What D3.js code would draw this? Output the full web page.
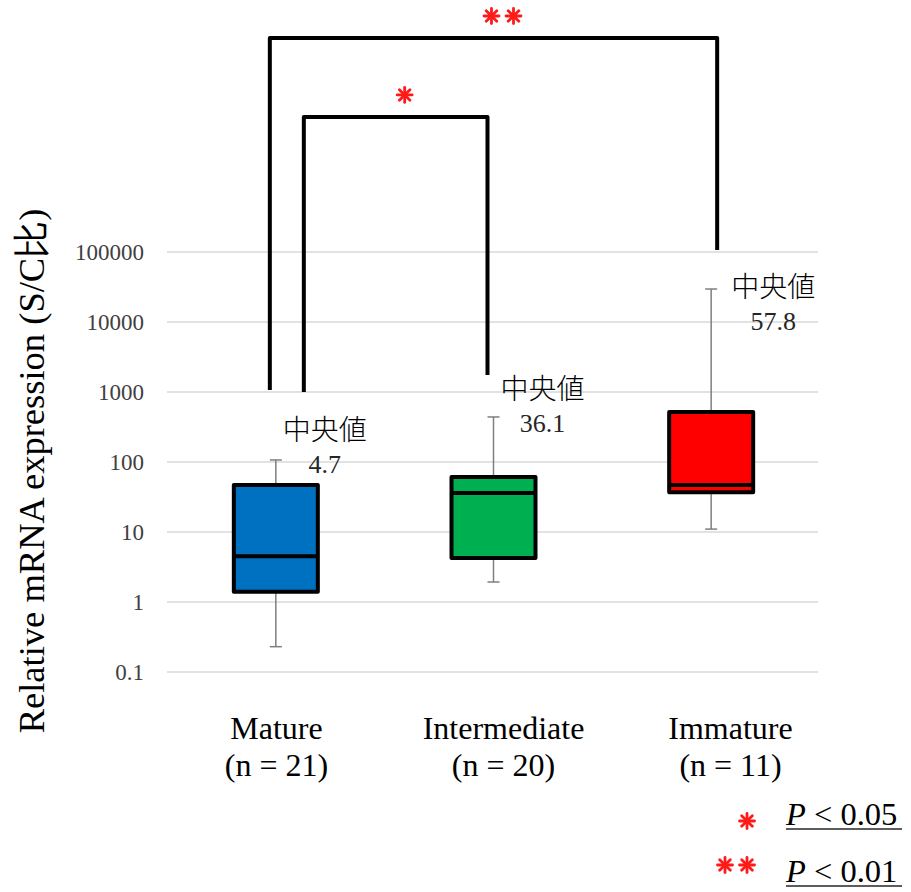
<!DOCTYPE html>
<html>
<head>
<meta charset="utf-8">
<script src="https://cdn.jsdelivr.net/npm/d3@7"></script>
<style>
  body { margin: 0; background: #fff; }
  svg text { font-family: "Liberation Serif", "Times New Roman", serif; }
  .jp { font-family: "Noto Sans CJK JP", "Noto Sans", sans-serif; }
</style>
</head>
<body>
<div id="chart"></div>
<script>
// groups and their labels
var groups = ["Mature", "Intermediate", "Immature"];
var groupN = ["(n = 21)", "(n = 20)", "(n = 11)"];
var fills = ["#0070c0", "#00b050", "#ff0000"];

// box plot values
var whiskerLow  = [0.23, 1.93, 11];
var q1          = [1.4, 4.25, 37];
var medians     = [4.5, 36.1, 47];
var q3          = [47, 61, 520];
var whiskerHigh = [107, 440, 29600];
var medianText  = ["4.7", "36.1", "57.8"];

var yTicks = [0.1, 1, 10, 100, 1000, 10000, 100000];

// significance brackets (group index pairs, ends/top in data units)
var brackets = [
  {from: 0, to: 2, leftEnd: 1070, rightEnd: 107000, top: 1.14e8, stars: 2},
  {from: 0, to: 1, leftEnd: 1000, rightEnd: 1750, top: 8.5e6, stars: 1}
];
var legendItems = [
  {stars: 1, text: " < 0.05"},
  {stars: 2, text: " < 0.01"}
];

var W = 911, H = 892;

var svg = d3.select("#chart").append("svg")
    .attr("width", W)
    .attr("height", H);

var yScale = d3.scaleLog()
    .domain([0.1, 100000])
    .range([672, 252]);

var xBox = d3.scaleBand()
    .domain(groups)
    .range([167, 820]);

var xLabel = d3.scaleBand()
    .domain(groups)
    .range([163, 844]);

var boxW = 84;

// gridlines
svg.append("g").selectAll("line")
  .data(yTicks)
  .enter().append("line")
    .attr("x1", 167).attr("x2", 818)
    .attr("y1", function(d) { return yScale(d); })
    .attr("y2", function(d) { return yScale(d); })
    .style("stroke", "#d9d9d9")
    .style("stroke-width", 1.5);

// y axis tick labels
var yAxis = svg.append("g")
    .attr("transform", "translate(167,0)")
    .call(d3.axisLeft(yScale)
      .tickValues(yTicks)
      .tickFormat(function(d) { return String(d); })
      .tickSize(0)
      .tickPadding(23));
yAxis.select(".domain").remove();
yAxis.selectAll("text")
    .style("font-family", "'Liberation Serif', serif")
    .style("font-size", "23px")
    .style("fill", "#404040");

// y axis title
svg.append("text")
    .attr("transform", "translate(44,471) rotate(-90)")
    .attr("text-anchor", "middle")
    .style("font-size", "36.5px")
    .style("fill", "#000")
    .text("Relative mRNA expression (S/C比)");

// boxes
var boxes = svg.selectAll(".box")
  .data(groups)
  .enter().append("g")
    .attr("class", "box");

boxes.append("line")
    .attr("x1", function(d) { return xBox(d) + xBox.bandwidth() / 2; })
    .attr("x2", function(d) { return xBox(d) + xBox.bandwidth() / 2; })
    .attr("y1", function(d, i) { return yScale(whiskerLow[i]); })
    .attr("y2", function(d, i) { return yScale(whiskerHigh[i]); })
    .style("stroke", "#7f7f7f")
    .style("stroke-width", 1.5);

[whiskerLow, whiskerHigh].forEach(function(arr) {
  boxes.append("line")
    .attr("x1", function(d) { return xBox(d) + xBox.bandwidth() / 2 - 6; })
    .attr("x2", function(d) { return xBox(d) + xBox.bandwidth() / 2 + 6; })
    .attr("y1", function(d, i) { return yScale(arr[i]); })
    .attr("y2", function(d, i) { return yScale(arr[i]); })
    .style("stroke", "#7f7f7f")
    .style("stroke-width", 1.5);
});

boxes.append("rect")
    .attr("x", function(d) { return xBox(d) + xBox.bandwidth() / 2 - boxW / 2; })
    .attr("width", boxW)
    .attr("y", function(d, i) { return yScale(q3[i]); })
    .attr("height", function(d, i) { return yScale(q1[i]) - yScale(q3[i]); })
    .style("fill", function(d, i) { return fills[i]; })
    .style("stroke", "#000")
    .style("stroke-width", 4)
    .style("stroke-linejoin", "round");

boxes.append("line")
    .attr("x1", function(d) { return xBox(d) + xBox.bandwidth() / 2 - boxW / 2; })
    .attr("x2", function(d) { return xBox(d) + xBox.bandwidth() / 2 + boxW / 2; })
    .attr("y1", function(d, i) { return yScale(medians[i]); })
    .attr("y2", function(d, i) { return yScale(medians[i]); })
    .style("stroke", "#000")
    .style("stroke-width", 4);

// median annotations
var noteDx = [49, 49, 62];
var noteDy = [13, 15, 41];
boxes.append("text")
    .attr("class", "jp")
    .attr("x", function(d, i) { return xBox(d) + xBox.bandwidth() / 2 + noteDx[i]; })
    .attr("y", function(d, i) { return yScale(whiskerHigh[i]) + noteDy[i] - 33; })
    .attr("text-anchor", "middle")
    .style("font-size", "28px")
    .style("font-weight", 300)
    .style("fill", "#000")
    .text("中央値");
boxes.append("text")
    .attr("x", function(d, i) { return xBox(d) + xBox.bandwidth() / 2 + noteDx[i]; })
    .attr("y", function(d, i) { return yScale(whiskerHigh[i]) + noteDy[i]; })
    .attr("text-anchor", "middle")
    .style("font-size", "26px")
    .style("fill", "#262626")
    .text(function(d, i) { return medianText[i]; });

// category labels
var cats = svg.selectAll(".cat")
  .data(groups)
  .enter().append("text")
    .attr("class", "cat")
    .attr("x", function(d) { return xLabel(d) + xLabel.bandwidth() / 2; })
    .attr("text-anchor", "middle")
    .style("font-size", "32px")
    .style("fill", "#000");
cats.append("tspan")
    .attr("x", function(d) { return xLabel(d) + xLabel.bandwidth() / 2; })
    .attr("y", 739)
    .text(function(d) { return d; });
cats.append("tspan")
    .attr("x", function(d) { return xLabel(d) + xLabel.bandwidth() / 2; })
    .attr("y", 776)
    .text(function(d, i) { return groupN[i]; });

// asterisk drawing
function drawStar(g, cx, cy) {
  var r = 7.5;
  [0, 45, 90, 135].forEach(function(a) {
    var rad = a * Math.PI / 180;
    g.append("line")
      .attr("x1", cx - r * Math.cos(rad)).attr("y1", cy - r * Math.sin(rad))
      .attr("x2", cx + r * Math.cos(rad)).attr("y2", cy + r * Math.sin(rad))
      .style("stroke", "#ff1a1a")
      .style("stroke-width", 2.8)
      .style("stroke-linecap", "round");
  });
}
function drawStars(g, cx, cy, n) {
  var gap = 22;
  for (var k = 0; k < n; k++) {
    drawStar(g, cx - (n - 1) * gap / 2 + k * gap, cy);
  }
}

// brackets
var bDx = {left: [-6, 28], right: [6, -6]};
var bg = svg.append("g");
brackets.forEach(function(b, i) {
  var xl = xBox(groups[b.from]) + xBox.bandwidth() / 2 + bDx.left[i];
  var xr = xBox(groups[b.to]) + xBox.bandwidth() / 2 + bDx.right[i];
  var yt = yScale(b.top);
  bg.append("path")
    .attr("d", "M" + xl + "," + yScale(b.leftEnd) + "V" + yt + "H" + xr + "V" + yScale(b.rightEnd))
    .style("fill", "none")
    .style("stroke", "#000")
    .style("stroke-width", 4)
    .style("stroke-linejoin", "round");
  drawStars(bg, (xl + xr) / 2 + 9, yt - 22, b.stars);
});

// legend
var lg = svg.append("g");
var starDy = [-4, -17];
legendItems.forEach(function(d, i) {
  var y = 825 + i * 57;
  var n = d.stars;
  for (var k = 0; k < n; k++) {
    drawStar(lg, 747 - (n - 1 - k) * 22, y + starDy[i]);
  }
  var t = lg.append("text")
    .attr("x", 786)
    .attr("y", y)
    .style("font-size", "32.5px")
    .style("fill", "#000");
  t.append("tspan").style("font-style", "italic").text("P");
  t.append("tspan").text(d.text);
  lg.append("line")
    .attr("x1", 786).attr("x2", 902)
    .attr("y1", y + 4).attr("y2", y + 4)
    .style("stroke", "#262626")
    .style("stroke-width", 1.5);
});
</script>
</body>
</html>
